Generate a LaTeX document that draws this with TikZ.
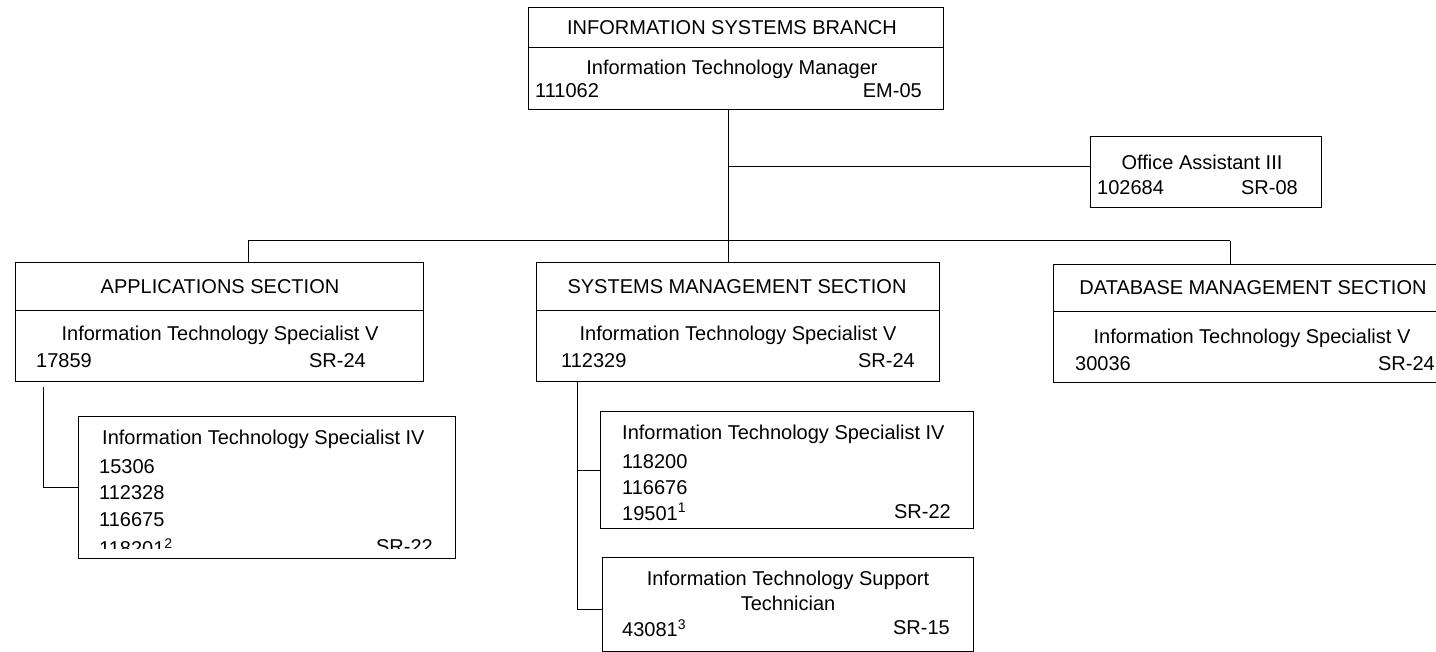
\documentclass[tikz,border=0pt]{standalone}
\usepackage{fontspec}
\setmainfont{Liberation Sans}
\usetikzlibrary{calc}
\begin{document}
\begin{tikzpicture}[x=1pt,y=-1pt,
  box/.style={draw, line width=1pt, anchor=north west, inner sep=0pt, outer sep=0pt},
  txt/.style={font=\fontsize{20}{23}\selectfont, inner sep=0pt},
  conn/.style={line width=1pt}]
\useasboundingbox (0,0) rectangle (1436,652);
\clip (0,0) rectangle (1436,652);
\fill[white] (0,0) rectangle (1436,652);

% top box
\node[box, minimum width=415pt, minimum height=102pt] (top) at (528,8) {};
\draw[conn] (528,48) -- (943,48);
\node[txt] (topT) at (732,28) {INFORMATION SYSTEMS BRANCH};
\node[txt] (topJ) at (732,69) {Information Technology Manager};
\node[txt, anchor=west] (topN) at (535,91) {111062};
\node[txt, anchor=east] (topG) at (922,91) {EM-05};

% office assistant
\node[box, minimum width=231pt, minimum height=71pt] (office) at (1090,137) {};
\node[txt] (offJ) at (1202,162) {Office Assistant III};
\node[txt, anchor=west] (offN) at (1097,188) {102684};
\node[txt, anchor=east] (offG) at (1298,188) {SR-08};

% sections
\node[box, minimum width=408pt, minimum height=119pt] (app) at (15,263) {};
\draw[conn] (15,311) -- (423,311);
\node[txt] (appT) at (220,287) {APPLICATIONS SECTION};
\node[txt] (appJ) at (220,335) {Information Technology Specialist V};
\node[txt, anchor=west] (appN) at (36,361) {17859};
\node[txt, anchor=east] (appG) at (366,361) {SR-24};

\node[box, minimum width=403pt, minimum height=119pt] (sys) at (536,263) {};
\draw[conn] (536,311) -- (939,311);
\node[txt] (sysT) at (737,287) {SYSTEMS MANAGEMENT SECTION};
\node[txt] (sysJ) at (738,335) {Information Technology Specialist V};
\node[txt, anchor=west] (sysN) at (561,361) {112329};
\node[txt, anchor=east] (sysG) at (915,361) {SR-24};

\node[box, minimum width=400pt, minimum height=118pt] (db) at (1053,265) {};
\draw[conn] (1053,312) -- (1453,312);
\node[txt] (dbT) at (1253,288) {DATABASE MANAGEMENT SECTION};
\node[txt] (dbJ) at (1252,338) {Information Technology Specialist V};
\node[txt, anchor=west] (dbN) at (1075,364) {30036};
\node[txt, anchor=east] (dbG) at (1435,364) {SR-24};

% applications sub box
\node[box, minimum width=377pt, minimum height=141pt] (appIV) at (78,417) {};
\node[txt, anchor=west] (aIVJ) at (102,439) {Information Technology Specialist IV};
\node[txt, anchor=west] (aIV1) at (99,467) {15306};
\node[txt, anchor=west] (aIV2) at (99,493) {112328};
\node[txt, anchor=west] (aIV3) at (99,520) {116675};
\begin{scope}
\clip (78,530) rectangle (455,548);
\node[txt, anchor=west] (aIV4) at (99,547) {118201\textsuperscript{2}};
\node[txt, anchor=east] (aIVG) at (433,547) {SR-22};
\end{scope}

% systems sub boxes
\node[box, minimum width=373pt, minimum height=116pt] (sysIV) at (600,412) {};
\node[txt, anchor=west] (sIVJ) at (622,434) {Information Technology Specialist IV};
\node[txt, anchor=west] (sIV1) at (622,462) {118200};
\node[txt, anchor=west] (sIV2) at (622,488) {116676};
\node[txt, anchor=west] (sIV3) at (622,512) {19501\textsuperscript{1}};
\node[txt, anchor=east] (sIVG) at (951,512) {SR-22};

\node[box, minimum width=371pt, minimum height=94pt] (tech) at (602,557) {};
\node[txt] (tJ1) at (788,580) {Information Technology Support};
\node[txt] (tJ2) at (788,603) {Technician};
\node[txt, anchor=west] (tN) at (622,628) {43081\textsuperscript{3}};
\node[txt, anchor=east] (tG) at (950,628) {SR-15};

% connectors
\coordinate (trunk) at (728,241);
\coordinate (bl) at (248,241);
\coordinate (br) at (1230,241);
\draw[conn] (trunk |- top.south) -- (trunk);
\draw[conn] (trunk |- 0,167) -- ($(office.west)+(0,-5.5)$);
\draw[conn] (bl) -- (br);
\draw[conn] (bl) -- (bl |- app.north);
\draw[conn] (trunk) -- (trunk |- sys.north);
\draw[conn] (br) -- (br |- db.north);

\coordinate (lc) at (43,387);
\draw[conn] (lc) |- (appIV.west);

\coordinate (mc) at (577,381);
\draw[conn] (mc) |- (sysIV.west);
\draw[conn] (mc) |- ($(tech.west)+(0,5)$);
\end{tikzpicture}
\end{document}
